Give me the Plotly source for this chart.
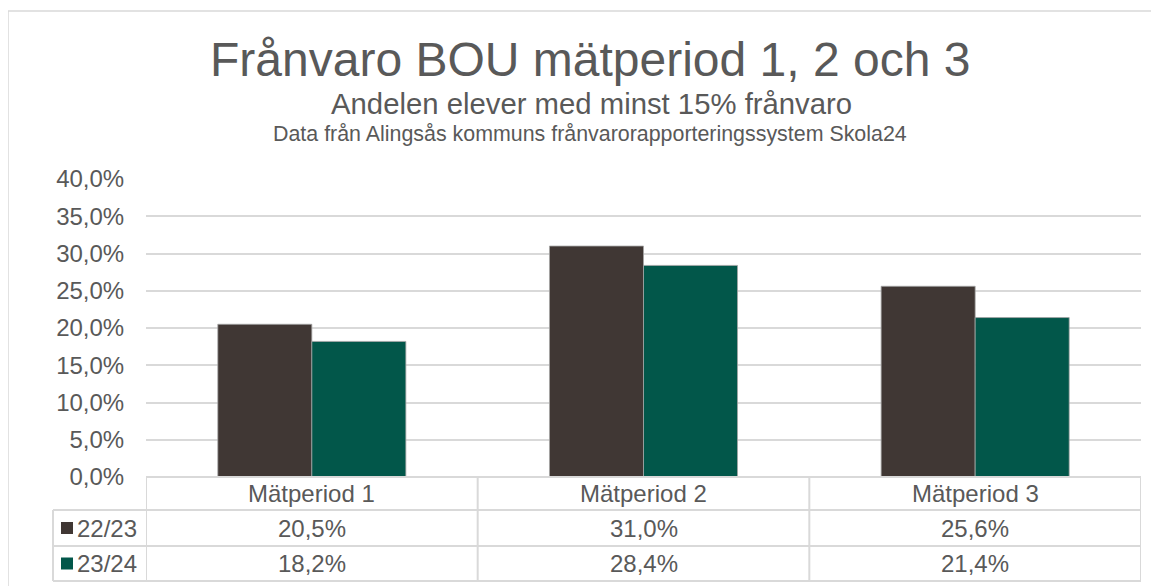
import plotly.graph_objects as go

categories = ["Mätperiod 1", "Mätperiod 2", "Mätperiod 3"]
series_names = ["22/23", "23/24"]
values_2223 = [0.205, 0.310, 0.256]
values_2324 = [0.182, 0.284, 0.214]
colors = ["#403734", "#02574A"]

title = "Frånvaro BOU mätperiod 1, 2 och 3"
subtitle = "Andelen elever med minst 15% frånvaro"
source = "Data från Alingsås kommuns frånvarorapporteringssystem Skola24"

OFF = 8  # page body margin
W, H = 1159 - OFF, 586 - OFF
L, R, T, B = 146, 1141, 179, 477  # screen pixels of plot area
PW, PH = R - L, B - T

def px(xp):
    return (xp - L) / PW

def py(yp):
    return (B - yp) / PH

TEXT = "#595959"
GRID = "#d9d9d9"
FONT = "Arial, Liberation Sans, sans-serif"
FS = 24

fig = go.Figure()
all_vals = [values_2223, values_2324]
for name, vals, col in zip(series_names, all_vals, colors):
    fig.add_trace(go.Bar(
        x=categories, y=vals, name=name,
        marker=dict(color=col, line=dict(color="#a6a6a6", width=0.8)),
        showlegend=False, hoverinfo="x+y",
    ))

shapes = []
annotations = []

# outer chart border
shapes.append(dict(type="rect", xref="paper", yref="paper",
                   x0=px(8), x1=px(1175), y0=py(600), y1=py(11),
                   line=dict(color=GRID, width=1.5), layer="below"))

row_y = [477, 510, 546, 581]
left_x = 53
n = len(categories)

# header top
shapes.append(dict(type="line", xref="x", yref="paper", x0=-0.5, x1=n - 0.5,
                   y0=py(row_y[0]), y1=py(row_y[0]), line=dict(color=GRID, width=2)))
for y in row_y[1:]:
    shapes.append(dict(type="line", xref="paper", yref="paper",
                       x0=px(left_x), x1=1, y0=py(y), y1=py(y),
                       line=dict(color=GRID, width=2)))
for i in range(n + 1):
    shapes.append(dict(type="line", xref="x", yref="paper",
                       x0=i - 0.5, x1=i - 0.5, y0=py(row_y[0]), y1=py(row_y[-1]),
                       line=dict(color=GRID, width=2)))
shapes.append(dict(type="line", xref="paper", yref="paper",
                   x0=px(left_x), x1=px(left_x), y0=py(row_y[1]), y1=py(row_y[-1]),
                   line=dict(color=GRID, width=2)))

for c in categories:
    annotations.append(dict(x=c, xref="x", y=py((row_y[0] + row_y[1]) / 2), yref="paper",
                            text=c, showarrow=False, xanchor="center", yanchor="middle",
                            font=dict(size=FS, color=TEXT, family=FONT)))

for r, (name, vals, col) in enumerate(zip(series_names, all_vals, colors)):
    yc = (row_y[r + 1] + row_y[r + 2]) / 2
    shapes.append(dict(type="rect", xref="paper", yref="paper",
                       x0=px(61), x1=px(73), y0=py(yc + 6), y1=py(yc - 6),
                       fillcolor=col, line=dict(width=0)))
    annotations.append(dict(x=px(75), xref="paper", y=py(yc), yref="paper",
                            text=name, showarrow=False, xanchor="left", yanchor="middle",
                            font=dict(size=FS, color=TEXT, family=FONT)))
    for c, v in zip(categories, vals):
        annotations.append(dict(x=c, xref="x", y=py(yc), yref="paper",
                                text=f"{v*100:.1f}%".replace(".", ","), showarrow=False,
                                xanchor="center", yanchor="middle",
                                font=dict(size=FS, color=TEXT, family=FONT)))

annotations.append(dict(x=px(590), xref="paper", y=py(60), yref="paper", text=title,
                        showarrow=False, xanchor="center", yanchor="middle",
                        font=dict(size=48, color=TEXT, family=FONT)))
annotations.append(dict(x=px(591), xref="paper", y=py(104), yref="paper", text=subtitle,
                        showarrow=False, xanchor="center", yanchor="middle",
                        font=dict(size=29.3, color=TEXT, family=FONT)))
annotations.append(dict(x=px(590), xref="paper", y=py(134), yref="paper", text=source,
                        showarrow=False, xanchor="center", yanchor="middle",
                        font=dict(size=21.4, color=TEXT, family=FONT)))

fig.update_layout(
    width=W, height=H, autosize=False,
    margin=dict(l=L - OFF, r=W - (R - OFF), t=T - OFF, b=H - (B - OFF), pad=0),
    paper_bgcolor="white", plot_bgcolor="white",
    separators=", ",
    barmode="group", bargap=0.433, bargroupgap=0,
    shapes=shapes, annotations=annotations,
    font=dict(family=FONT, color=TEXT),
    xaxis=dict(showticklabels=False, showgrid=False, zeroline=False, showline=False,
               ticks="", range=[-0.5, n - 0.5]),
    yaxis=dict(range=[0, 0.4], dtick=0.05, tickformat=".1%", showgrid=True,
               gridcolor=GRID, gridwidth=1.5, zeroline=False, showline=False,
               ticks="outside", ticklen=16, tickcolor="rgba(0,0,0,0)",
               tickfont=dict(size=FS, color=TEXT, family=FONT)),
)

fig.write_html("out.html")
